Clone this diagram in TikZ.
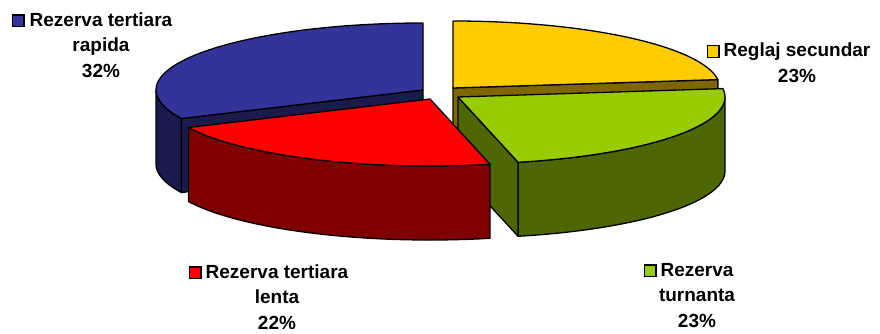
\documentclass[tikz,border=0pt]{standalone}
\usepackage{fontspec}
\setmainfont{Liberation Sans}
\usetikzlibrary{calc}
\definecolor{bluetop}{HTML}{333399}
\definecolor{blueside}{HTML}{1A1A4D}
\definecolor{redtop}{HTML}{FF0000}
\definecolor{redside}{HTML}{7F0000}
\definecolor{yeltop}{HTML}{FFCC00}
\definecolor{yelside}{HTML}{806600}
\definecolor{grntop}{HTML}{99CC00}
\definecolor{grnside}{HTML}{4D6600}
\newcommand{\legmark}[1]{{\setlength{\fboxsep}{0pt}\setlength{\fboxrule}{1.3pt}\fcolorbox{black}{#1}{\rule{10.4pt}{0pt}\rule{0pt}{10.4pt}}}}
\begin{document}
\begin{tikzpicture}[x=1pt,y=1pt,
  face/.style={draw=black, line width=1.3pt, line join=round},
  lbl/.style={font=\fontsize{19}{25.5}\selectfont\bfseries, align=center, inner sep=0pt, anchor=base},
  ell/.style={x radius=267pt, y radius=67pt}]
\useasboundingbox (0,0) rectangle (880,333);
\coordinate (Y) at (453,245);
\coordinate (G) at (458,236);
\coordinate (R) at (430,234);
\coordinate (B) at (423,243);
% yellow slice (Reglaj secundar)
\draw[face, fill=yelside] (Y) -- ++(7.2:267pt and 67pt) -- ++(0,-74) -- ($(Y)+(0,-74)$) -- cycle;
\draw[face, fill=yeltop] (Y) -- ++(7.2:267pt and 67pt) arc[ell, start angle=7.2, end angle=90] -- cycle;
% blue slice (Rezerva tertiara rapida)
\draw[face, fill=blueside] ($(B)+(180:267pt and 67pt)$) arc[ell, start angle=180, end angle=205.2] -- ++(0,-74) arc[ell, start angle=205.2, end angle=180] -- cycle;
\draw[face, fill=blueside] (B) -- ++(205.2:267pt and 67pt) -- ++(0,-74) -- ($(B)+(0,-74)$) -- cycle;
\draw[face, fill=bluetop] (B) -- ++(90:267pt and 67pt) arc[ell, start angle=90, end angle=205.2] -- cycle;
% green slice (Rezerva turnanta)
\draw[face, fill=grnside] ($(G)+(-77:267pt and 67pt)$) arc[ell, start angle=-77, end angle=0] -- ++(0,-74) arc[ell, start angle=0, end angle=-77] -- cycle;
\draw[face, fill=grnside] (G) -- ++(-77:267pt and 67pt) -- ++(0,-74) -- ($(G)+(0,-74)$) -- cycle;
\draw[face, fill=grntop] (G) -- ++(-77:267pt and 67pt) arc[ell, start angle=-77, end angle=7.2] -- cycle;
% red slice (Rezerva tertiara lenta)
\draw[face, fill=redside] ($(R)+(-154.8:267pt and 67pt)$) arc[ell, start angle=-154.8, end angle=-77] -- ++(0,-74) arc[ell, start angle=-77, end angle=-154.8] -- cycle;
\draw[face, fill=redtop] (R) -- ++(-154.8:267pt and 67pt) arc[ell, start angle=-154.8, end angle=-77] -- cycle;
% labels (anchor = baseline of last line)
\node[lbl] (lblue) at (101,256) {\llap{\legmark{bluetop}\hspace{5pt}}Rezerva tertiara\\rapida\\32\%};
\node[lbl] (lyel) at (797,251) {\llap{\legmark{yeltop}\hspace{4pt}}Reglaj secundar\\23\%};
\node[lbl] (lred) at (277,4) {\llap{\legmark{redtop}\hspace{4pt}}Rezerva tertiara\\lenta\\22\%};
\node[lbl] (lgrn) at (697,6) {\llap{\legmark{grntop}\hspace{4pt}}Rezerva\\turnanta\\23\%};
\end{tikzpicture}
\end{document}
